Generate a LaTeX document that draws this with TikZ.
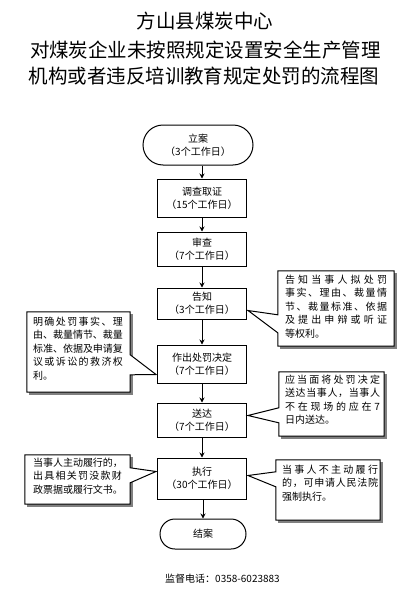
\documentclass[tikz,border=0pt]{standalone}
\usepackage{fontspec}
\setmainfont{Noto Sans CJK SC}
\usetikzlibrary{calc,arrows.meta,shapes.misc}
\def\spreadit#1{#1\spreadnext}
\def\spreadnext#1{\ifx#1\relax\else\hfil#1\expandafter\spreadnext\fi}
\newcommand\jl[2]{\makebox[#1][s]{\spreadit#2\relax}}
\begin{document}
\begin{tikzpicture}[x=1pt,y=-1pt,
  box/.style={draw,line width=1pt,minimum width=89pt,inner sep=0pt,align=center,font=\fontsize{10}{13}\selectfont},
  term/.style={box,rounded rectangle},
  flow/.style={line width=1pt,-{Stealth[length=5pt,width=5pt]}},
  cpos/.style={inner sep=0pt,draw=none},
  cshape/.style={draw,line width=1pt,fill=white,line join=miter},
  cshadow/.style={fill=black!50},
  ctext/.style={anchor=north west,inner sep=0pt,align=left,font=\fontsize{10}{13.5}\selectfont},
  ttl/.style={font=\fontsize{19.5}{22}\selectfont,inner sep=0pt}]
\useasboundingbox (0,0) rectangle (408,597);
% title
\node[ttl] (t1) at (205,21) {方山县煤炭中心};
\node[ttl] (t2) at (203.5,50) {\jl{347pt}{对煤炭企业未按照规定设置安全生产管理}};
\node[ttl] (t3) at (204,76.5) {机构或者违反培训教育规定处罚的流程图};
% main flow
\node[term,minimum width=110pt,minimum height=40pt] (la) at (198,145) {立案\\（3个工作日）};
\node[box,minimum height=38pt] (dc) at (202,198) {调查取证\\（15个工作日）};
\node[box,minimum height=34pt] (sc) at (202,249) {审查\\（7个工作日）};
\node[box,minimum height=31pt] (gz) at (202,303.5) {告知\\（3个工作日）};
\node[box,minimum height=38pt] (zc) at (202,364) {作出处罚决定\\（7个工作日）};
\node[box,minimum height=34pt] (sd) at (202,420) {送达\\（7个工作日）};
\node[box,minimum height=41pt] (zx) at (202,478.5) {执行\\（30个工作日）};
\node[term,minimum width=86pt,minimum height=30pt] (ja) at (203,534) {结案};
\draw[flow] (la.south -| dc.north) -- (dc.north);
\draw[flow] (dc) -- (sc);
\draw[flow] (sc) -- (gz);
\draw[flow] (gz) -- (zc);
\draw[flow] (zc) -- (sd);
\draw[flow] (sd) -- (zx);
\draw[flow] (zx.south -| ja.north) -- (ja.north);
% callout frames (positions)
\node[cpos,minimum width=116pt,minimum height=75pt] (c1) at (336,308.5) {};
\node[cpos,minimum width=103pt,minimum height=80pt] (c2) at (78.5,352) {};
\node[cpos,minimum width=105pt,minimum height=64pt] (c3) at (331.5,404) {};
\node[cpos,minimum width=105pt,minimum height=49pt] (c4) at (77.5,479.5) {};
\node[cpos,minimum width=104pt,minimum height=60pt] (c5) at (328,490) {};
% shadows
\foreach \c in {c1,c2,c3,c4,c5}
  \fill[cshadow] ($(\c.north west)+(2.5,2.5)$) rectangle ($(\c.south east)+(2.5,2.5)$);
% callout shapes
\draw[cshape] (c1.north west) -- (c1.north east) -- (c1.south east) -- (c1.south west)
  -- ($(c1.north west)+(0,62)$) -- ($(gz.north east)+(1,23)$) -- ($(c1.north west)+(0,44)$) -- cycle;
\draw[cshape] (c2.north west) -- (c2.north east) -- ($(c2.north east)+(0,43)$)
  -- ($(zc.north west)+(-1,30)$) -- ($(c2.north east)+(0,63)$) -- (c2.south east) -- (c2.south west) -- cycle;
\draw[cshape] (c3.north west) -- (c3.north east) -- (c3.south east) -- (c3.south west)
  -- ($(c3.north west)+(0,51)$) -- ($(sd.north east)+(1,13)$) -- ($(c3.north west)+(0,36)$) -- cycle;
\draw[cshape] (c4.north west) -- (c4.north east) -- ($(c4.north east)+(0,13)$)
  -- ($(zx.north west)+(-1,14)$) -- ($(c4.north east)+(0,28)$) -- (c4.south east) -- (c4.south west) -- cycle;
\draw[cshape] (c5.north west) -- (c5.north east) -- (c5.south east) -- (c5.south west)
  -- ($(c5.north west)+(0,27)$) -- ($(zx.north east)+(1,18)$) -- ($(c5.north west)+(0,12)$) -- cycle;
% callout texts
\node[ctext] (c1t) at ($(c1.north west)+(7,3.8)$) {\jl{102pt}{告知当事人拟处罚}\\\jl{102pt}{事实、理由、裁量情}\\\jl{102pt}{节、裁量标准、依据}\\\jl{102pt}{及提出申辩或听证}\\等权利。};
\node[ctext] (c2t) at ($(c2.north west)+(6,4.8)$) {\jl{90pt}{明确处罚事实、理}\\\jl{90pt}{由、裁量情节、裁量}\\\jl{90pt}{标准、依据及申请复}\\\jl{90pt}{议或诉讼的救济权}\\利。};
\node[ctext] (c3t) at ($(c3.north west)+(6,2.8)$) {\jl{95pt}{应当面将处罚决定}\\\jl{95pt}{送达当事人，当事人}\\\jl{95pt}{不在现场的应在7}\\日内送达。};
\node[ctext] (c4t) at ($(c4.north west)+(8,2.8)$) {\jl{89pt}{当事人主动履行的，}\\\jl{89pt}{出具相关罚没款财}\\\jl{89pt}{政票据或履行文书。}};
\node[ctext] (c5t) at ($(c5.north west)+(6,4.8)$) {\jl{96pt}{当事人不主动履行}\\\jl{96pt}{的，可申请人民法院}\\强制执行。};
% footer
\node[inner sep=0pt,font=\fontsize{10}{12}\selectfont] (ft) at (222.5,579) {监督电话：0358-6023883};
\end{tikzpicture}
\end{document}
